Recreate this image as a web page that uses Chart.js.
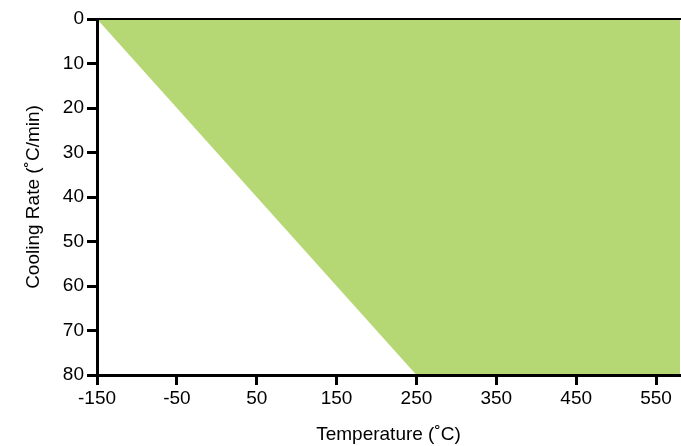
<!DOCTYPE html>
<html>
<head>
<meta charset="utf-8">
<script src="https://cdn.jsdelivr.net/npm/chart.js@4.4.0/dist/chart.umd.min.js"></script>
<style>
  html, body { margin: 0; padding: 0; background: #fff; }
  #wrap { width: 681px; height: 446px; }
</style>
</head>
<body>
<div id="wrap"><canvas id="chart"></canvas></div>
<script>
// boundary of the green region (temperature, cooling rate)
const edgeTemps = [-150, 250, 580, 580];
const edgeRates = [0, 80, 80, 0];
const xTicks = [-150, -50, 50, 150, 250, 350, 450, 550];
const yTicks = [0, 10, 20, 30, 40, 50, 60, 70, 80];

const FONT = { family: "'Liberation Sans', Arial, sans-serif", size: 19 };
const black = '#000';

const points = edgeTemps.map((t, i) => ({ x: t, y: edgeRates[i] }));

new Chart(document.getElementById('chart'), {
    type: 'line',
    data: {
        datasets: [{
            data: points,
            borderWidth: 0,
            borderColor: 'rgba(0,0,0,0)',
            backgroundColor: '#b5d774',
            pointRadius: 0,
            tension: 0,
            fill: { value: 0 }
        }]
    },
    options: {
        responsive: true,
        maintainAspectRatio: false,
        animation: false,
        layout: { padding: { left: 22, right: 1, top: 19, bottom: 0 } },
        plugins: { legend: { display: false }, tooltip: { enabled: false } },
        scales: {
            x: {
                type: 'linear',
                min: -150,
                max: 580,
                afterBuildTicks: s => { s.ticks = xTicks.map(v => ({ value: v })); },
                afterFit: s => { s.height = 71; },
                ticks: { color: black, font: FONT, padding: 2, maxRotation: 0, autoSkip: false },
                grid: { drawOnChartArea: false, drawTicks: true, tickLength: 10, tickWidth: 3, tickColor: black },
                border: { color: black, width: 3, z: 2 },
                title: { display: true, text: 'Temperature (˚C)', color: black, font: FONT, padding: 0 }
            },
            x2: {
                type: 'linear',
                position: 'top',
                min: -150,
                max: 580,
                ticks: { display: false },
                grid: { display: false, drawTicks: false },
                afterFit: s => { s.height = 0; },
                border: { color: black, width: 2, z: 2 }
            },
            y: {
                type: 'linear',
                reverse: true,
                min: 0,
                max: 80,
                afterBuildTicks: s => { s.ticks = yTicks.map(v => ({ value: v })); },
                afterFit: s => { s.width = 75; },
                ticks: { color: black, font: FONT, padding: 3, autoSkip: false },
                grid: { drawOnChartArea: false, drawTicks: true, tickLength: 10, tickWidth: 3, tickColor: black },
                border: { color: black, width: 3, z: 2 },
                title: { display: true, text: 'Cooling Rate (˚C/min)', color: black, font: FONT, padding: 0 }
            }
        }
    }
});
</script>
</body>
</html>
